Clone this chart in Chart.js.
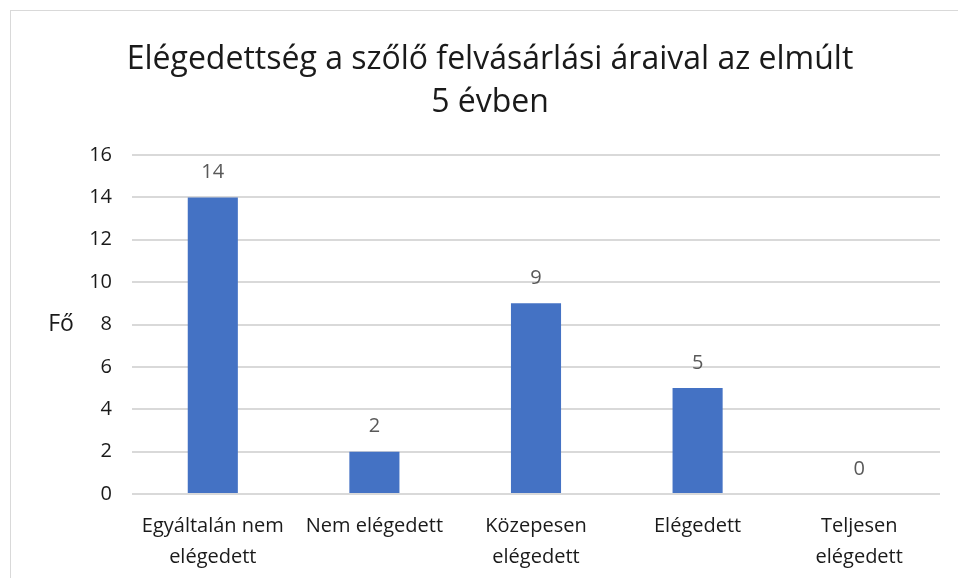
<!DOCTYPE html>
<html>
<head>
<meta charset="utf-8">
<script src="https://cdn.jsdelivr.net/npm/chart.js@4/dist/chart.umd.min.js"></script>
<style>
  html, body { margin: 0; padding: 0; background: #fff; }
  #wrap { position: relative; width: 958px; height: 578px; overflow: hidden; }
  #frame { position: absolute; left: 10px; top: 10px; width: 960px; height: 600px; border: 1px solid #d9d9d9; box-sizing: border-box; }
  canvas { position: absolute; left: 0; top: 0; }
</style>
</head>
<body>
<div id="wrap">
  <div id="frame"></div>
  <canvas id="chart" width="958" height="578"></canvas>
</div>
<script>
const categories = [
    ["Egyáltalán nem", "elégedett"],
    "Nem elégedett",
    ["Közepesen", "elégedett"],
    "Elégedett",
    ["Teljesen", "elégedett"]
];
const counts = [14, 2, 9, 5, 0];
const titleLines = ["Elégedettség a szőlő felvásárlási áraival az elmúlt", "5 évben"];
const yTitle = "Fő";

const fontFamily = "'Open Sans', sans-serif";

// title, value labels above the bars, horizontal axis title
const extras = {
    id: 'extras',
    afterDatasetsDraw(chart) {
        const ctx = chart.ctx;
        const meta = chart.getDatasetMeta(0);
        ctx.save();
        ctx.textAlign = "center";
        ctx.textBaseline = "middle";

        ctx.font = "32px " + fontFamily;
        ctx.fillStyle = "#1a1a1a";
        titleLines.forEach((line, i) => ctx.fillText(line, 490, 60 + i * 43));

        ctx.font = "20px " + fontFamily;
        ctx.fillStyle = "#595959";
        meta.data.forEach((bar, i) => {
            ctx.fillText(String(counts[i]), bar.x, bar.y - 25);
        });

        ctx.font = "23px " + fontFamily;
        ctx.fillStyle = "#1a1a1a";
        const y = chart.scales.y;
        ctx.fillText(yTitle, 61, (y.top + y.bottom) / 2);
        ctx.restore();
    }
};

new Chart(document.getElementById('chart'), {
    type: 'bar',
    data: {
        labels: categories,
        datasets: [{
            data: counts,
            backgroundColor: '#4472C4',
            borderWidth: 0,
            barPercentage: 0.31,
            categoryPercentage: 1
        }]
    },
    options: {
        responsive: false,
        animation: false,
        layout: { padding: { left: 0, right: 18, top: 155, bottom: 0 } },
        plugins: {
            legend: { display: false },
            tooltip: { enabled: false },
            title: { display: false }
        },
        scales: {
            x: {
                grid: { display: false },
                border: { display: false },
                ticks: {
                    color: '#1a1a1a',
                    font: { family: fontFamily, size: 20, lineHeight: 1.55 },
                    padding: 9,
                    maxRotation: 0,
                    autoSkip: false
                },
                afterFit(scale) { scale.height = 84; }
            },
            y: {
                min: 0,
                max: 16,
                ticks: {
                    stepSize: 2,
                    color: '#1a1a1a',
                    font: { family: fontFamily, size: 20 },
                    padding: 20
                },
                grid: { color: '#d9d9d9', lineWidth: 2, drawTicks: false },
                border: { display: false },
                afterFit(scale) { scale.width = 132; }
            }
        }
    },
    plugins: [extras]
});
</script>
</body>
</html>
